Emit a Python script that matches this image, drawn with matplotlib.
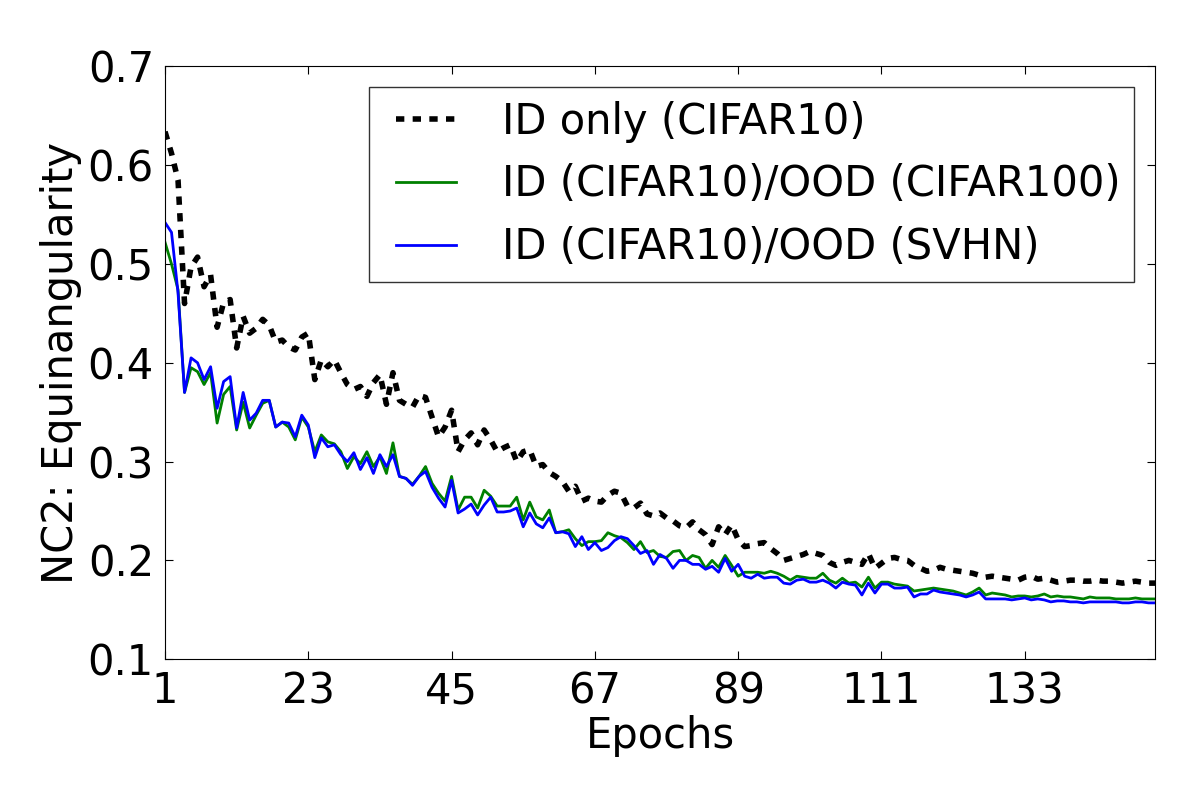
import numpy as np
import matplotlib
matplotlib.use("Agg")
import matplotlib.pyplot as plt

# NC2 equiangularity per epoch
id_only = [
    0.634, 0.612, 0.585, 0.460, 0.497, 0.507, 0.477, 0.489, 0.436, 0.461,
    0.464, 0.415, 0.447, 0.430, 0.435, 0.444, 0.438, 0.421, 0.423, 0.416,
    0.413, 0.426, 0.430, 0.383, 0.403, 0.396, 0.403, 0.390, 0.378, 0.373,
    0.376, 0.366, 0.380, 0.388, 0.358, 0.390, 0.362, 0.358, 0.355, 0.367,
    0.365, 0.345, 0.325, 0.335, 0.352,
    0.310, 0.322, 0.329, 0.317, 0.332, 0.322, 0.310, 0.314, 0.317, 0.300,
    0.310, 0.312, 0.295, 0.297, 0.289, 0.285, 0.280, 0.270, 0.275, 0.260,
    0.263, 0.260, 0.259, 0.266, 0.270, 0.268, 0.255, 0.253, 0.258, 0.247,
    0.245, 0.248, 0.243, 0.240, 0.235, 0.233, 0.239, 0.231, 0.226, 0.216,
    0.234, 0.226, 0.236, 0.221,
    0.214, 0.215, 0.217, 0.218, 0.212, 0.207, 0.200, 0.202, 0.204, 0.206,
    0.209, 0.207, 0.205, 0.198, 0.195, 0.198, 0.200, 0.198, 0.196, 0.207,
    0.192, 0.197, 0.202, 0.203, 0.201, 0.200, 0.195, 0.192, 0.189, 0.190,
    0.193, 0.191, 0.190, 0.189, 0.188, 0.187, 0.185, 0.183, 0.184, 0.183,
    0.182, 0.181, 0.180, 0.183, 0.184, 0.181, 0.182, 0.180, 0.178, 0.179,
    0.180, 0.180, 0.179, 0.179, 0.180, 0.179, 0.179, 0.178, 0.177, 0.178,
    0.179, 0.178, 0.177, 0.177,
]

ood_cifar100 = [
    0.522, 0.500, 0.474, 0.370, 0.395, 0.391, 0.378, 0.390, 0.339, 0.368,
    0.376, 0.332, 0.360, 0.334, 0.347, 0.359, 0.362, 0.335, 0.340, 0.335,
    0.322, 0.345, 0.335, 0.310, 0.327, 0.320, 0.318, 0.310, 0.293, 0.305,
    0.298, 0.310, 0.295, 0.305, 0.288, 0.319, 0.285, 0.283, 0.277, 0.285,
    0.295, 0.278, 0.268, 0.260, 0.285,
    0.251, 0.264, 0.264, 0.253, 0.271, 0.265, 0.255, 0.255, 0.255, 0.264,
    0.241, 0.259, 0.244, 0.241, 0.251, 0.228, 0.229, 0.231, 0.222, 0.215,
    0.219, 0.219, 0.220, 0.228, 0.225, 0.223, 0.218, 0.211, 0.219, 0.208,
    0.210, 0.204, 0.203, 0.209, 0.210, 0.200, 0.205, 0.203, 0.192, 0.200,
    0.193, 0.205, 0.195, 0.184, 0.188, 0.188, 0.188,
    0.187, 0.189, 0.187, 0.184, 0.180, 0.184, 0.183, 0.182, 0.182, 0.187,
    0.180, 0.177, 0.182, 0.177, 0.178, 0.173, 0.183, 0.172, 0.178, 0.178,
    0.176, 0.175, 0.174, 0.169, 0.170, 0.171, 0.172, 0.171, 0.170, 0.169,
    0.167, 0.165, 0.168, 0.172, 0.165, 0.167, 0.166, 0.165, 0.163, 0.164,
    0.164, 0.163, 0.164, 0.166, 0.163, 0.164, 0.163, 0.163, 0.162, 0.161,
    0.163, 0.162, 0.162, 0.162, 0.161, 0.161, 0.161, 0.162, 0.161, 0.161,
    0.161,
]

ood_svhn = [
    0.542, 0.532, 0.471, 0.370, 0.405, 0.400, 0.383, 0.396, 0.354, 0.381,
    0.386, 0.334, 0.370, 0.342, 0.349, 0.362, 0.362, 0.335, 0.340, 0.339,
    0.325, 0.347, 0.337, 0.304, 0.324, 0.315, 0.317, 0.307, 0.300, 0.309,
    0.292, 0.304, 0.288, 0.307, 0.295, 0.307, 0.285, 0.283, 0.276, 0.285,
    0.290, 0.274, 0.263, 0.254, 0.281,
    0.248, 0.252, 0.257, 0.246, 0.256, 0.264, 0.249, 0.249, 0.250, 0.253,
    0.234, 0.248, 0.237, 0.233, 0.243, 0.228, 0.229, 0.227, 0.214, 0.224,
    0.211, 0.218, 0.210, 0.213, 0.220, 0.224, 0.222, 0.215, 0.207, 0.210,
    0.196, 0.206, 0.202, 0.192, 0.200, 0.200, 0.196, 0.196, 0.191, 0.194,
    0.188, 0.202, 0.189, 0.196, 0.184, 0.182, 0.186,
    0.182, 0.183, 0.183, 0.177, 0.176, 0.180, 0.181, 0.178, 0.178, 0.180,
    0.177, 0.172, 0.178, 0.176, 0.175, 0.165, 0.177, 0.167, 0.176, 0.176,
    0.172, 0.172, 0.173, 0.163, 0.166, 0.166, 0.170, 0.168, 0.167, 0.166,
    0.165, 0.163, 0.165, 0.168, 0.161, 0.161, 0.161, 0.161, 0.160, 0.161,
    0.162, 0.160, 0.161, 0.160, 0.158, 0.159, 0.159, 0.158, 0.158, 0.157,
    0.158, 0.158, 0.158, 0.158, 0.158, 0.157, 0.157, 0.158, 0.158, 0.157,
    0.157,
]

labels = ["ID only (CIFAR10)", "ID (CIFAR10)/OOD (CIFAR100)", "ID (CIFAR10)/OOD (SVHN)"]
epochs = np.arange(1, len(id_only) + 1)

plt.rcParams['font.size'] = 30
plt.rcParams['xtick.direction'] = 'in'
plt.rcParams['ytick.direction'] = 'in'
plt.rcParams['xtick.top'] = True
plt.rcParams['ytick.right'] = True

fig, ax = plt.subplots(figsize=(12, 8), dpi=100)
fig.subplots_adjust(left=0.1375, right=0.9625, top=0.917, bottom=0.176)

ax.plot(epochs, id_only, color='k', lw=4, linestyle=(0, (1.5, 1.5)), label=labels[0])
ax.plot(epochs, ood_cifar100, color='g', lw=2, label=labels[1])
ax.plot(epochs, ood_svhn, color='b', lw=2, label=labels[2])

ax.set_xlim(1, len(epochs))
ax.set_ylim(0.1, 0.7)
ax.set_xticks(np.arange(1, len(epochs) + 1, 22))
ax.set_yticks(np.arange(0.1, 0.71, 0.1))
ax.tick_params(length=6, width=0.8, pad=8)
ax.set_xlabel('Epochs', labelpad=2)
ax.set_ylabel('NC2: Equinangularity')

leg = ax.legend(loc='upper right', fancybox=False, handlelength=1.77,
                handletextpad=1.1, labelspacing=0.5, borderpad=0.32,
                borderaxespad=0.5)
leg.get_frame().set_edgecolor('k')
# the handles start a bit in from the left edge of the box
for ln in leg.get_lines():
    xd = np.asarray(ln.get_xdata(), dtype=float)
    xd[0] += 9.6
    ln.set_xdata(xd)

plt.savefig('out.png')
